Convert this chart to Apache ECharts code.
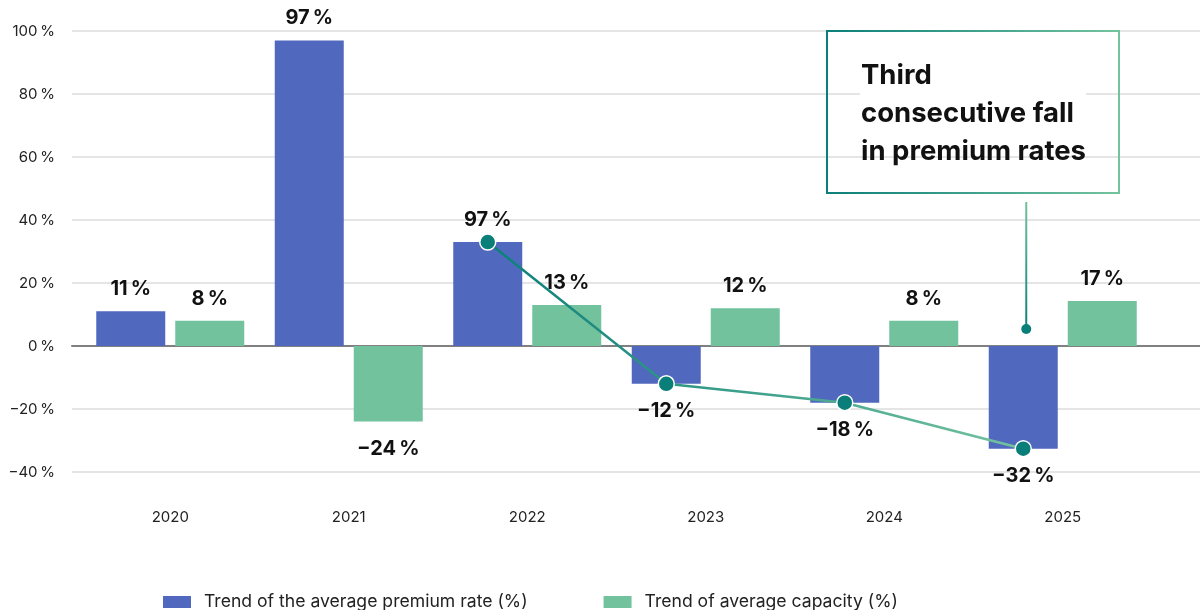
<!DOCTYPE html>
<html>
<head>
<meta charset="utf-8">
<script src="https://cdn.jsdelivr.net/npm/echarts@6/dist/echarts.min.js"></script>
<style>html,body{margin:0;padding:0;background:#fff}#c{width:1200px;height:610px}</style>
</head>
<body>
<div id="c"></div>
<script>
// ---- data ----
const years = ['2020', '2021', '2022', '2023', '2024', '2025'];
const premiumValues = [11, 97, 33, -12, -18, -32.6];
const capacityValues = [8, -24, 13, 12, 8, 14.3];
const premiumLabels = ['11\u202F%', '97\u202F%', '97\u202F%', '\u221212\u202F%', '\u221218\u202F%', '\u221232\u202F%'];
const capacityLabels = ['8\u202F%', '\u221224\u202F%', '13\u202F%', '12\u202F%', '8\u202F%', '17\u202F%'];
const trendYears = ['2022', '2023', '2024', '2025'];
const trendValues = [33, -12, -18, -32.6];
const yTicks = [-40, -20, 0, 20, 40, 60, 80, 100];
const seriesNames = ['Trend of the average premium rate (%)', 'Trend of average capacity (%)'];
const noteText = ['Third', 'consecutive fall', 'in premium rates'];
const noteYear = '2025';
const noteValue = 5.4;

// ---- style ----
const BLUE = '#5068bd', GREEN = '#72c29e', TEAL = '#0a7f79', LIGHT = '#74c39f';
const BAR_W = 69, GAP_PX = 10;
const GRID = {left: 81, right: 48, top: 31, bottom: 138};
const FONT = 'Inter, Roboto, "Noto Sans", sans-serif';
const pct = v => (v < 0 ? '\u2212' + Math.abs(v) : v) + '\u202F%';

const chart = echarts.init(document.getElementById('c'), null, {renderer: 'canvas'});
const bandW = (1200 - GRID.left - GRID.right) / years.length;
const shift = (BAR_W + GAP_PX) / 2 / bandW;

function barData(vals, labels) {
  return vals.map((v, i) => ({
    value: v,
    label: {
      show: true,
      position: v >= 0 ? 'top' : 'bottom',
      distance: v >= 0 ? 12 : 17,
      formatter: labels[i],
      fontFamily: FONT, fontWeight: 'bold', fontSize: 20, color: '#111'
    }
  }));
}

const option = {
  animation: false,
  backgroundColor: '#fff',
  grid: [
    {left: 72, right: 0, top: GRID.top, bottom: GRID.bottom},
    {left: GRID.left, right: GRID.right, top: GRID.top, bottom: GRID.bottom}
  ],
  xAxis: [
    {gridIndex: 0, type: 'value', min: 0, max: 1, show: true,
     axisLine: {show: true, onZero: true, lineStyle: {color: '#808080', width: 2}},
     axisTick: {show: false}, axisLabel: {show: false}, splitLine: {show: false}},
    {gridIndex: 1, type: 'category', data: years,
     axisLine: {show: false}, axisTick: {show: false},
     axisLabel: {margin: 38, fontFamily: FONT, fontSize: 15, color: '#222'}},
    {gridIndex: 1, type: 'value', min: -0.5, max: years.length - 0.5, show: false}
  ],
  yAxis: [
    {gridIndex: 0, type: 'value', min: yTicks[0], max: yTicks[yTicks.length - 1], interval: 20,
     axisLine: {show: false}, axisTick: {show: false},
     splitLine: {lineStyle: {color: '#dcdcdc', width: 1.5}},
     axisLabel: {margin: 17, fontFamily: FONT, fontSize: 15, color: '#222', formatter: pct}},
    {gridIndex: 1, type: 'value', min: yTicks[0], max: yTicks[yTicks.length - 1], interval: 20, show: false}
  ],
  legend: {
    left: 163, top: 593, padding: 0,
    itemWidth: 28, itemHeight: 12, itemGap: 76,
    icon: 'rect',
    textStyle: {fontFamily: FONT, fontSize: 17.6, color: '#222', padding: [0, 0, 0, 8]},
    data: seriesNames
  },
  series: [
    {name: seriesNames[0], type: 'bar', xAxisIndex: 1, yAxisIndex: 1,
     barWidth: BAR_W, barGap: (GAP_PX / BAR_W * 100) + '%',
     itemStyle: {color: BLUE}, data: barData(premiumValues, premiumLabels), z: 2},
    {name: seriesNames[1], type: 'bar', xAxisIndex: 1, yAxisIndex: 1,
     barWidth: BAR_W, barGap: (GAP_PX / BAR_W * 100) + '%',
     itemStyle: {color: GREEN}, data: barData(capacityValues, capacityLabels), z: 2},
    {name: 'trend', type: 'line', xAxisIndex: 2, yAxisIndex: 1,
     data: trendYears.map((y, i) => [years.indexOf(y) - shift, trendValues[i]]),
     symbol: 'circle', symbolSize: 16,
     lineStyle: {width: 2.5, color: new echarts.graphic.LinearGradient(0, 0, 1, 0, [
       {offset: 0, color: TEAL}, {offset: 1, color: LIGHT}])},
     itemStyle: {color: TEAL, borderColor: '#fff', borderWidth: 1.5},
     label: {show: false}, z: 5}
  ]
};
chart.setOption(option);

// annotation
const anchor = chart.convertToPixel({xAxisIndex: 2, yAxisIndex: 1}, [years.indexOf(noteYear) - shift, noteValue]);
const boxX = 827, boxY = 31, boxW = 292, boxH = 162;
chart.setOption({
  graphic: [
    {type: 'rect', shape: {x: 860, y: 58, width: 226, height: 92}, style: {fill: '#fff'}, z: 10, silent: true},
    {type: 'rect', shape: {x: boxX, y: boxY, width: boxW, height: boxH},
     style: {fill: 'none', lineWidth: 2, stroke: new echarts.graphic.LinearGradient(0, 0, 1, 0, [
       {offset: 0, color: TEAL}, {offset: 1, color: LIGHT}])}, z: 11, silent: true},
    {type: 'text', x: 861, y: 57, z: 12, silent: true,
     style: {text: noteText.join('\n'), fontFamily: FONT, fontWeight: 'bold', fontSize: 27.5,
             lineHeight: 38, fill: '#111'}},
    {type: 'line', shape: {x1: anchor[0] + 3, y1: boxY + boxH + 9, x2: anchor[0] + 3, y2: anchor[1]},
     style: {stroke: new echarts.graphic.LinearGradient(0, 0, 0, 1, [
       {offset: 0, color: LIGHT}, {offset: 1, color: TEAL}]), lineWidth: 2}, z: 11, silent: true},
    {type: 'circle', shape: {cx: anchor[0] + 3, cy: anchor[1], r: 5}, style: {fill: TEAL}, z: 12, silent: true}
  ]
});
</script>
</body>
</html>
